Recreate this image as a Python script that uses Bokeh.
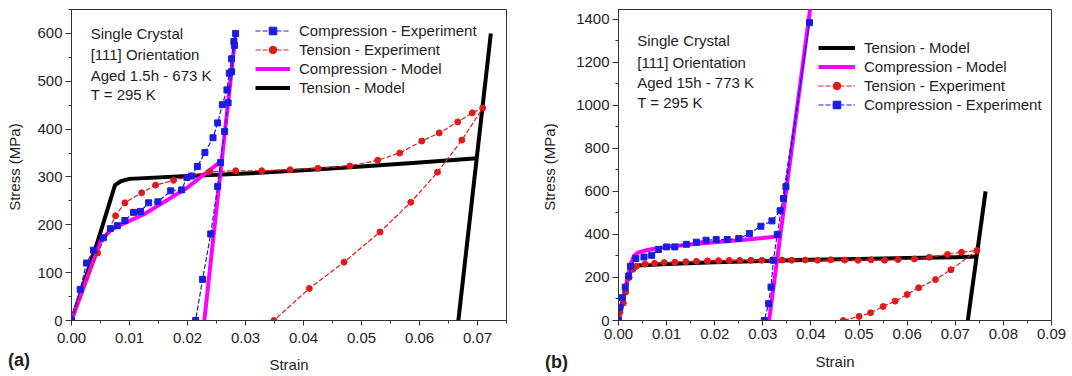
from bokeh.plotting import figure
from bokeh.layouts import row, column
from bokeh.models import Range1d, FixedTicker, NumeralTickFormatter, Legend, LegendItem, Label, Div
from bokeh.embed import file_html
from bokeh.resources import INLINE

# ---------------- data : panel (a) ----------------
a_x_ticks = [0.00, 0.01, 0.02, 0.03, 0.04, 0.05, 0.06, 0.07]
a_y_ticks = [0, 100, 200, 300, 400, 500, 600]

a_tm_load_x = [0, 0.0045, 0.0075, 0.0085, 0.010, 0.020, 0.030, 0.040, 0.050, 0.060, 0.0699]
a_tm_load_y = [0, 165, 283, 291, 296, 302, 307, 314, 322, 330, 339]
a_tm_el_x = [0.0667, 0.0723]
a_tm_el_y = [0, 600]

a_cm_load_x = [0, 0.0050, 0.0068, 0.0085, 0.0125, 0.016, 0.020, 0.0258]
a_cm_load_y = [0, 165, 190, 200, 222, 248, 278, 333]
a_cm_el_x = [0.0229, 0.0283]
a_cm_el_y = [0, 600]

a_te_x = [0, 0.0045, 0.0076, 0.0092, 0.0121, 0.0145, 0.0176, 0.0206, 0.0238, 0.0283,
          0.0328, 0.0377, 0.0425, 0.0480, 0.0528, 0.0566, 0.0604, 0.0634, 0.0666, 0.0691,
          0.0709, 0.0673, 0.0631, 0.0585, 0.0532, 0.0470, 0.0410, 0.0349]
a_te_y = [0, 141, 219, 246, 267, 283, 293, 302, 311, 313,
          313, 315, 318, 323, 335, 350, 375, 392, 415, 434,
          444, 377, 310, 247, 185, 122, 67, 0]

a_ce_x = [0, 0.0015, 0.0026, 0.0038, 0.0055, 0.0067, 0.0079, 0.0092, 0.0107, 0.0119,
          0.0133, 0.0149, 0.0171, 0.0190, 0.0199, 0.0207, 0.0217, 0.0230, 0.0244, 0.0252,
          0.0260, 0.0268, 0.0272, 0.0276, 0.0280, 0.0283,
          0.0281, 0.0276, 0.0270, 0.0264, 0.0257, 0.0252, 0.0240, 0.0226, 0.0214]
a_ce_y = [0, 65, 120, 147, 173, 192, 198, 209, 226, 228,
          246, 248, 271, 273, 299, 302, 322, 351, 382, 413,
          451, 482, 517, 547, 583, 600,
          575, 520, 455, 395, 330, 280, 181, 86, 0]

# ---------------- data : panel (b) ----------------
b_x_ticks = [0.00, 0.01, 0.02, 0.03, 0.04, 0.05, 0.06, 0.07, 0.08, 0.09]
b_y_ticks = [0, 200, 400, 600, 800, 1000, 1200, 1400]

b_tm_load_x = [0, 0.0022, 0.0030, 0.0040, 0.010, 0.020, 0.030, 0.040, 0.050, 0.060, 0.070, 0.0744]
b_tm_load_y = [0, 220, 245, 255, 263, 271, 277, 282, 286, 290, 294, 297]
b_tm_el_x = [0.0726, 0.0763]
b_tm_el_y = [0, 600]

b_cm_load_x = [0, 0.0025, 0.0032, 0.0040, 0.0060, 0.010, 0.015, 0.020, 0.025, 0.030, 0.0336]
b_cm_load_y = [0, 260, 300, 315, 328, 343, 353, 363, 373, 383, 392]
b_cm_el_x = [0.0313, 0.0405]
b_cm_el_y = [0, 1560]

b_te_x = [0, 0.0003, 0.0010, 0.0015, 0.0022, 0.0030, 0.0037, 0.0055, 0.0075, 0.0095,
          0.0117, 0.0140, 0.0162, 0.0185, 0.0208, 0.0230, 0.0252, 0.0275, 0.0298, 0.0320,
          0.0340, 0.0360, 0.0388, 0.0414, 0.0441, 0.0470, 0.0498, 0.0525, 0.0553, 0.0581,
          0.0615, 0.0646, 0.0684, 0.0713, 0.0745,
          0.0691, 0.0659, 0.0624, 0.0600, 0.0575, 0.0550, 0.0524, 0.0500, 0.0467]
b_te_y = [0, 39, 81, 132, 200, 238, 252, 262, 266, 269,
          271, 273, 275, 277, 278, 279, 279, 280, 280, 281,
          281, 280, 281, 280, 282, 281, 280, 282, 280, 283,
          286, 294, 307, 317, 325,
          236, 190, 152, 121, 90, 65, 36, 19, 0]

b_ce_x = [0, 0.0003, 0.0008, 0.0014, 0.0021, 0.0025, 0.0036, 0.0053, 0.0069, 0.0083,
          0.0100, 0.0117, 0.0141, 0.0162, 0.0182, 0.0203, 0.0226, 0.0250, 0.0272, 0.0296,
          0.0319, 0.0336, 0.0343, 0.0348, 0.0397,
          0.0330, 0.0322, 0.0317, 0.0312, 0.0303]
b_ce_y = [0, 62, 106, 155, 207, 252, 288, 295, 303, 330,
          342, 342, 354, 364, 373, 376, 376, 381, 404, 438,
          463, 510, 567, 622, 1384,
          400, 280, 155, 78, 0]

FONT = "Liberation Sans"
TXT = "#1e1e1e"
AX = "#333333"
BLUE = "#1c1ce0"
RED = "#e01a1a"
MAG = "#ff00ff"
BLK = "#000000"


def base_fig(width, xr, yr, xt, xmt, yt, ymt, mbl, mbr, mbt, mbb, y_std, y_label_std, x_std, x_label_std):
    p = figure(width=width, height=376, x_range=Range1d(*xr), y_range=Range1d(*yr),
               output_backend="svg", toolbar_location=None,
               min_border_left=mbl, min_border_right=mbr, min_border_top=mbt, min_border_bottom=mbb)
    p.grid.visible = False
    p.outline_line_color = AX
    p.outline_line_width = 1
    p.background_fill_color = "white"
    p.border_fill_alpha = 0
    p.xaxis.ticker = FixedTicker(ticks=xt, minor_ticks=xmt)
    p.yaxis.ticker = FixedTicker(ticks=yt, minor_ticks=ymt)
    p.xaxis.formatter = NumeralTickFormatter(format="0.00")
    for ax in (p.xaxis[0], p.yaxis[0]):
        ax.axis_line_color = AX
        ax.major_tick_line_color = AX
        ax.minor_tick_line_color = AX
        ax.major_tick_in = 0
        ax.minor_tick_in = 0
        ax.minor_tick_out = 3
        ax.major_label_text_font = FONT
        ax.major_label_text_font_size = "15px"
        ax.major_label_text_color = TXT
        ax.axis_label_text_font = FONT
        ax.axis_label_text_font_size = "15px"
        ax.axis_label_text_font_style = "normal"
        ax.axis_label_text_color = TXT
    p.yaxis.major_tick_out = 6
    p.xaxis.major_tick_out = 5
    p.yaxis.major_label_standoff = y_std
    p.yaxis.axis_label_standoff = y_label_std
    p.xaxis.major_label_standoff = x_std
    p.xaxis.axis_label_standoff = x_label_std
    p.xaxis.axis_label = "Strain"
    p.yaxis.axis_label = "Stress  (MPa)"
    return p


def add_series(p, tm, tm_el, cm, cm_el, te, ce):
    r_tm = p.line(tm[0], tm[1], line_color=BLK, line_width=4, line_join="round")
    p.line(tm_el[0], tm_el[1], line_color=BLK, line_width=4)
    r_cm = p.line(cm[0], cm[1], line_color=MAG, line_width=4, line_join="round")
    p.line(cm_el[0], cm_el[1], line_color=MAG, line_width=4)
    r_te_l = p.line(te[0], te[1], line_color=RED, line_width=1.2, line_dash="5 2")
    r_te_p = p.scatter(te[0], te[1], marker="circle", size=6, fill_color=RED, line_color=RED)
    r_ce_l = p.line(ce[0], ce[1], line_color=BLUE, line_width=1.2, line_dash="5 2")
    r_ce_p = p.scatter(ce[0], ce[1], marker="square", size=6, fill_color=BLUE, line_color=BLUE)
    return {
        "Tension - Model": [r_tm],
        "Compression - Model": [r_cm],
        "Tension - Experiment": [r_te_l, r_te_p],
        "Compression - Experiment": [r_ce_l, r_ce_p],
    }


def add_legend(p, rends, order, loc, gw):
    items = [LegendItem(label=k, renderers=rends[k]) for k in order]
    leg = Legend(items=items, location=loc, padding=0, margin=0, spacing=0,
                 glyph_width=gw, glyph_height=19, label_height=19, label_standoff=9,
                 border_line_color=None, background_fill_alpha=0,
                 label_text_font=FONT, label_text_font_size="15px", label_text_color=TXT)
    p.add_layout(leg)


def add_text(p, x, ys, lines):
    for y, t in zip(ys, lines):
        p.add_layout(Label(x=x, y=y, text=t, text_font=FONT, text_font_size="15px",
                           text_color=TXT, text_baseline="middle", text_align="left"))


# ---------------- panel (a) ----------------
pa = base_fig(538, (0, 0.075), (0, 650), a_x_ticks,
              [0.005, 0.015, 0.025, 0.035, 0.045, 0.055, 0.065, 0.075],
              a_y_ticks, [50, 150, 250, 350, 450, 550, 650],
              71, 32, 7, 56, 3, 11, 7, 10)
ra = add_series(pa, (a_tm_load_x, a_tm_load_y), (a_tm_el_x, a_tm_el_y),
                (a_cm_load_x, a_cm_load_y), (a_cm_el_x, a_cm_el_y),
                (a_te_x, a_te_y), (a_ce_x, a_ce_y))
add_legend(pa, ra, ["Compression - Experiment", "Tension - Experiment",
                    "Compression - Model", "Tension - Model"], (184, 223), 35)
add_text(pa, 0.0033, [600, 556, 513, 472],
         ["Single Crystal", "[111] Orientation", "Aged 1.5h - 673 K", "T = 295 K"])

# ---------------- panel (b) ----------------
pb = base_fig(534, (0, 0.09), (0, 1445), b_x_ticks,
              [0.005, 0.015, 0.025, 0.035, 0.045, 0.055, 0.065, 0.075, 0.085],
              b_y_ticks, [100, 300, 500, 700, 900, 1100, 1300],
              78, 21, 9, 56, 3, 15, 3, 11)
rb = add_series(pb, (b_tm_load_x, b_tm_load_y), (b_tm_el_x, b_tm_el_y),
                (b_cm_load_x, b_cm_load_y), (b_cm_el_x, b_cm_el_y),
                (b_te_x, b_te_y), (b_ce_x, b_ce_y))
add_legend(pb, rb, ["Tension - Model", "Compression - Model",
                    "Tension - Experiment", "Compression - Experiment"], (200, 206), 37)
add_text(pb, 0.0039, [1301, 1200, 1107, 1014],
         ["Single Crystal", "[111] Orientation", "Aged 15h - 773 K", "T = 295 K"])

# panel letters (outside the plot frames)
tag_style = {"font-family": FONT, "font-size": "18px", "font-weight": "bold",
             "color": TXT, "line-height": "20px"}
div_a = Div(text="(a)", width=40, height=20, margin=(-26, 0, 0, 8), styles=tag_style)
div_b = Div(text="(b)", width=40, height=20, margin=(-24, 0, 0, 497), styles=tag_style)

layout = column(row(pa, pb), row(div_a, div_b))
open("out.html", "w").write(file_html(layout, INLINE))
